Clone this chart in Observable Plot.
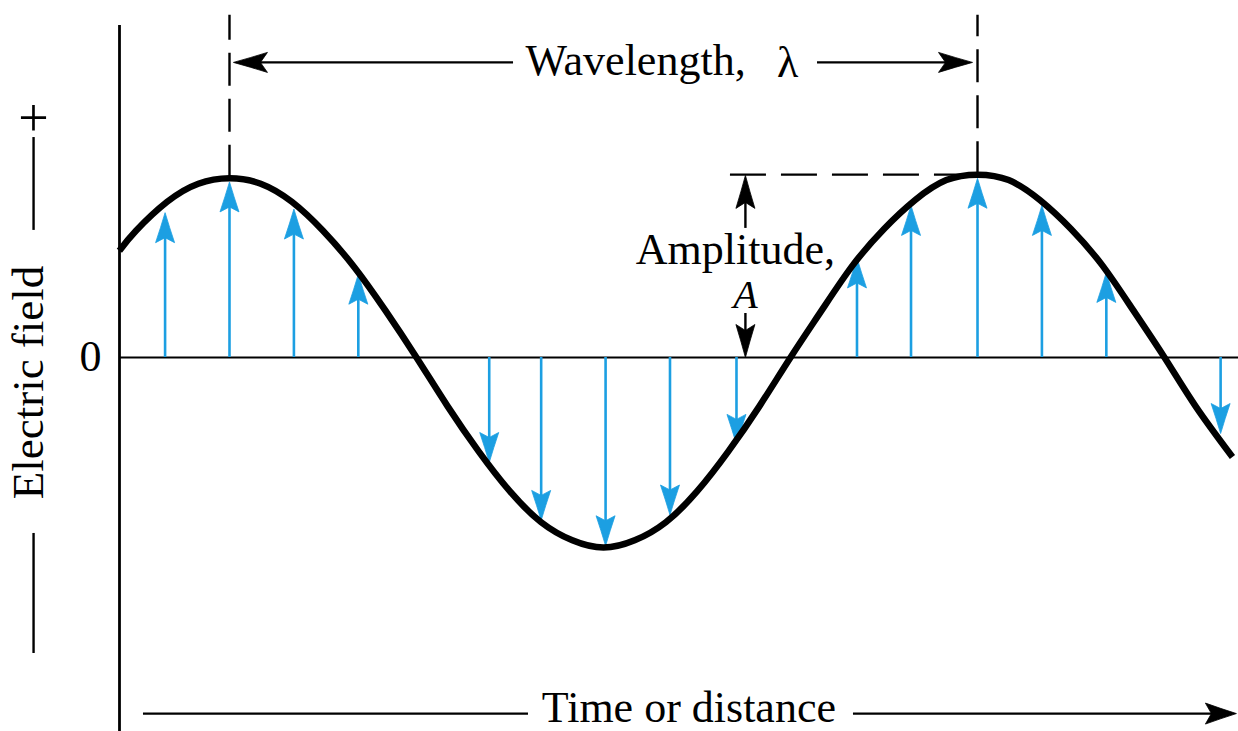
<!DOCTYPE html>
<html><head><meta charset="utf-8">
<script src="https://cdn.jsdelivr.net/npm/d3@7"></script>
<script src="https://cdn.jsdelivr.net/npm/@observablehq/plot@0.6"></script>
<style>html,body{margin:0;padding:0;background:#fff;overflow:hidden} #chart svg{display:block}</style>
</head><body><div id="chart"></div>
<script>
const curvePhase = [37, 45, 60, 75, 90, 105, 120, 135, 150, 165, 180, 195, 210, 225, 240, 255, 270, 285, 300, 315, 330, 345, 360, 375, 390, 405, 420, 435, 450, 465, 480, 495, 510, 525, 540, 555, 572.7];
const curveField = [0.59, 0.70, 0.86, 0.96, 0.99, 0.96, 0.86, 0.70, 0.50, 0.26, 0.00, -0.27, -0.52, -0.74, -0.91, -1.01, -1.05, -1.01, -0.91, -0.74, -0.52, -0.27, 0.00, 0.26, 0.51, 0.71, 0.87, 0.98, 1.01, 0.98, 0.87, 0.71, 0.51, 0.26, 0.00, -0.27, -0.55];
// Blue field vectors
const arrowPhase = [59, 90, 121, 152, 215, 240, 271, 302, 334, 392, 418, 450, 481, 512, 567];
const arrowField = [0.80, 0.97, 0.82, 0.46, -0.58, -0.90, -1.04, -0.87, -0.48, 0.55, 0.84, 0.99, 0.84, 0.47, -0.42];
// Crests used for wavelength / amplitude markers
const peakPhase = [90, 450];
const peakField = [0.99, 1.01];
// Labels
const labelWavelength = "Wavelength,";
const labelLambda = "λ";
const labelAmplitude = "Amplitude,";
const labelA = "A";
const labelX = "Time or distance";
const labelY = "Electric field";
const tickZero = "0";
const tickPlus = "+";

const BLUE = "#1c9fe2";
const INK = "#000";
const FONT = "'Liberation Serif','Times New Roman',Times,serif";

function spear(len, half, notch, dir) {
  const map = {up: ([x, y]) => [x, y], down: ([x, y]) => [x, -y], left: ([x, y]) => [y, x], right: ([x, y]) => [-y, x]}[dir];
  const P = {
    tip: [0, 0], c1: [half * 0.47, len * 0.5], br: [half, len], n: [0, notch], bl: [-half, len], c2: [-half * 0.47, len * 0.5]
  };
  const p = {};
  for (const k in P) p[k] = map(P[k]);
  return {
    draw(ctx) {
      ctx.moveTo(...p.tip);
      ctx.quadraticCurveTo(...p.c1, ...p.br);
      ctx.lineTo(...p.n);
      ctx.lineTo(...p.bl);
      ctx.quadraticCurveTo(...p.c2, ...p.tip);
      ctx.closePath();
    }
  };
}

const curve = curvePhase.map((p, i) => ({phase: p, field: curveField[i]}));
const arrows = arrowPhase.map((p, i) => ({phase: p, field: arrowField[i]}));
const up = arrows.filter(d => d.field > 0);
const down = arrows.filter(d => d.field < 0);
const peaks = peakPhase.map((p, i) => ({phase: p, field: peakField[i]}));

const txt = {fontFamily: FONT, fill: INK, fontSize: 45};

const chart = Plot.plot({
  width: 1238,
  height: 731,
  margin: 0,
  x: {domain: [-20.21, 575.61], axis: null},
  y: {domain: [-2.066, 1.972], axis: null},
  style: {background: "#fff", overflow: "visible"},
  marks: [
    // zero line and vertical axis
    Plot.ruleY([0], {x1: 37.06, x2: 575.61, stroke: INK, strokeWidth: 2.2}),
    Plot.ruleX([37.06], {y1: 1.834, y2: -2.066, stroke: INK, strokeWidth: 2.8}),
    // blue field vectors
    Plot.ruleX(up, {x: "phase", y1: "field", y2: 0, stroke: BLUE, strokeWidth: 2.6, insetTop: 16}),
    Plot.ruleX(down, {x: "phase", y1: 0, y2: "field", stroke: BLUE, strokeWidth: 2.6, insetBottom: 16}),
    Plot.dot(up, {x: "phase", y: "field", symbol: spear(30, 9.5, 25, "up"), fill: BLUE, stroke: BLUE, strokeWidth: 0.8}),
    Plot.dot(down, {x: "phase", y: "field", symbol: spear(30, 9.5, 25, "down"), fill: BLUE, stroke: BLUE, strokeWidth: 0.8}),
    // the wave
    Plot.line(curve, {x: "phase", y: "field", curve: "natural", stroke: INK, strokeWidth: 6.5, strokeLinecap: "butt"}),
    // dashed crest markers
    Plot.ruleX(peaks, {x: "phase", y1: "field", y2: 1.89, stroke: INK, strokeWidth: 2.4, strokeDasharray: "33,13"}),
    Plot.ruleY([peakField[1]], {x1: 331.1, x2: peakPhase[1], stroke: INK, strokeWidth: 2.4, strokeDasharray: "36,15"}),
    // wavelength arrows
    Plot.ruleY([1.63], {x1: 91.9, x2: 226.7, stroke: INK, strokeWidth: 2.4, insetLeft: 18}),
    Plot.ruleY([1.63], {x1: 373.0, x2: 447.6, stroke: INK, strokeWidth: 2.4, insetRight: 18}),
    Plot.dot([{x: 91.9, y: 1.63}], {x: "x", y: "y", symbol: spear(34, 10, 27, "left"), fill: INK, stroke: INK, strokeWidth: 0.8}),
    Plot.dot([{x: 447.6, y: 1.63}], {x: "x", y: "y", symbol: spear(34, 10, 27, "right"), fill: INK, stroke: INK, strokeWidth: 0.8}),
    // amplitude arrows
    Plot.ruleX([338.3], {y1: 1.006, y2: 0.713, stroke: INK, strokeWidth: 2.4, insetTop: 18}),
    Plot.ruleX([338.3], {y1: 0.243, y2: 0, stroke: INK, strokeWidth: 2.4, insetBottom: 18}),
    Plot.dot([{x: 338.3, y: 1.006}], {x: "x", y: "y", symbol: spear(33, 9.5, 27, "up"), fill: INK, stroke: INK, strokeWidth: 0.8}),
    Plot.dot([{x: 338.3, y: 0}], {x: "x", y: "y", symbol: spear(33, 9.5, 27, "down"), fill: INK, stroke: INK, strokeWidth: 0.8}),
    // time arrow
    Plot.ruleY([-1.967], {x1: 48.6, x2: 233.9, stroke: INK, strokeWidth: 2.4}),
    Plot.ruleY([-1.967], {x1: 390.3, x2: 574.6, stroke: INK, strokeWidth: 2.4, insetRight: 18}),
    Plot.dot([{x: 574.6, y: -1.967}], {x: "x", y: "y", symbol: spear(31, 10.5, 25, "right"), fill: INK, stroke: INK, strokeWidth: 0.8}),
    // y label decorations
    Plot.ruleX([-4.3], {y1: 1.215, y2: 0.702, stroke: INK, strokeWidth: 2.4}),
    Plot.ruleX([-4.3], {y1: -0.972, y2: -1.635, stroke: INK, strokeWidth: 2.4}),
    // texts
    Plot.text([labelWavelength], {x: 232.5, y: 1.558, textAnchor: "start", lineAnchor: "bottom", ...txt, fontSize: 44}),
    Plot.text([labelLambda], {x: 358.6, y: 1.552, textAnchor: "middle", lineAnchor: "bottom", ...txt, fontSize: 44}),
    Plot.text([labelAmplitude], {x: 333.5, y: 0.519, textAnchor: "middle", lineAnchor: "bottom", ...txt, fontSize: 44}),
    Plot.text([labelA], {x: 338.3, y: 0.276, textAnchor: "middle", lineAnchor: "bottom", ...txt, fontSize: 40, fontStyle: "italic"}),
    Plot.text([labelX], {x: 311.1, y: -2.012, textAnchor: "middle", lineAnchor: "bottom", ...txt, fontSize: 44}),
    Plot.text([labelY], {x: 0.48, y: -0.138, rotate: -90, textAnchor: "middle", lineAnchor: "bottom", ...txt}),
    Plot.text([tickZero], {x: 23.1, y: -0.077, textAnchor: "middle", lineAnchor: "bottom", ...txt, fontSize: 44}),
    Plot.text([tickPlus], {x: -4.3, y: 1.32, textAnchor: "middle", lineAnchor: "middle", ...txt, fontSize: 54})
  ]
});
document.getElementById("chart").appendChild(chart);
</script>
</body></html>
